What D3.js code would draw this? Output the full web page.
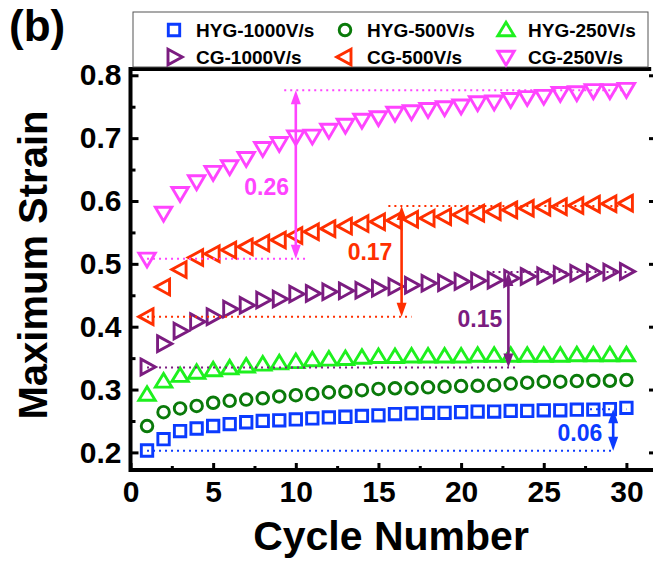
<!DOCTYPE html>
<html><head><meta charset="utf-8">
<script src="https://cdn.jsdelivr.net/npm/d3@7"></script>
<style>
html,body{margin:0;padding:0;background:#fff;}
svg{display:block;font-family:"Liberation Sans",Arial,sans-serif;font-weight:bold;}
</style></head>
<body><svg id="c" width="653" height="562"></svg>
<script>
// ---------------- data ----------------
const cycles = [1,2,3,4,5,6,7,8,9,10,11,12,13,14,15,16,17,18,19,20,21,22,23,24,25,26,27,28,29,30];
const hyg1000 = [0.203,0.221,0.234,0.238,0.242,0.245,0.248,0.250,0.251,0.2525,0.254,0.2557,0.2567,0.258,0.259,0.261,0.262,0.263,0.263,0.264,0.265,0.265,0.266,0.266,0.267,0.267,0.268,0.268,0.269,0.271];
const hyg500  = [0.242,0.264,0.270,0.274,0.279,0.282,0.284,0.286,0.289,0.291,0.293,0.2955,0.2965,0.299,0.301,0.302,0.302,0.3035,0.3045,0.3056,0.306,0.307,0.3095,0.311,0.3125,0.3125,0.3135,0.314,0.314,0.315];
const hyg250  = [0.292,0.313,0.322,0.327,0.331,0.334,0.337,0.340,0.342,0.344,0.347,0.348,0.349,0.351,0.352,0.352,0.353,0.353,0.353,0.353,0.354,0.354,0.354,0.354,0.354,0.354,0.355,0.355,0.355,0.355];
const cg1000  = [0.336,0.373,0.393,0.408,0.416,0.428,0.434,0.4425,0.444,0.452,0.453,0.4556,0.457,0.458,0.461,0.464,0.466,0.469,0.470,0.472,0.473,0.474,0.477,0.480,0.481,0.483,0.485,0.486,0.487,0.488];
const cg500   = [0.416,0.463,0.491,0.510,0.516,0.522,0.527,0.533,0.538,0.545,0.551,0.556,0.560,0.564,0.567,0.569,0.571,0.5726,0.575,0.578,0.5806,0.583,0.5858,0.5885,0.590,0.591,0.5927,0.595,0.5955,0.5965];
const cg250   = [0.508,0.581,0.6125,0.631,0.646,0.655,0.668,0.684,0.692,0.7025,0.7037,0.713,0.721,0.729,0.733,0.740,0.7424,0.746,0.7488,0.7515,0.7567,0.758,0.762,0.765,0.767,0.7716,0.7727,0.776,0.776,0.778];

const seriesNames  = ["HYG-1000V/s","HYG-500V/s","HYG-250V/s","CG-1000V/s","CG-500V/s","CG-250V/s"];
const seriesValues = [hyg1000, hyg500, hyg250, cg1000, cg500, cg250];
const seriesShapes = ["square","circle","up","right","left","down"];
const seriesColors = ["#0b3bff","#0a7a0a","#1ef01e","#7b1c80","#ff2f00","#ff44ff"];

const xTicks = [0,5,10,15,20,25,30];
const xMinor = [2.5,7.5,12.5,17.5,22.5,27.5];
const yTicks = [0.2,0.3,0.4,0.5,0.6,0.7,0.8];
const yMinor = [0.25,0.35,0.45,0.55,0.65,0.75];

// annotations: [topValue, topFrom, topTo, botValue, botFrom, botTo, arrowX, label, labelX, labelY]
const annoPink   = [0.776, 9.3, 30, 0.508, 1, 10.6, 10, "0.26", 8.24, 0.6228];
const annoOrange = [0.592, 15.6, 30, 0.416, 1, 17, 16.4, "0.17", 14.49, 0.519];
const annoPurple = [0.487, 21.9, 30, 0.335, 1, 23.4, 22.86, "0.15", 21.14, 0.4123];
const annoBlue   = [0.2685, 27.8, 30, 0.2025, 1, 29.1, 29.2, "0.06", 27.19, 0.2313];
const annoColors = ["#ff44ff","#ff2f00","#7b1c80","#0b3bff"];

// ---------------- chart ----------------
const svg = d3.select("#c");
const x = d3.scaleLinear().domain([0,31.5]).range([130.5,651.2]);
const y = d3.scaleLinear().domain([0.172,0.81]).range([470,69]);

function shapePath(t){
  switch(t){
    case "square": return "M-5.7,-5.7H5.7V5.7H-5.7Z";
    case "circle": return "M5.8,0A5.8,5.8 0 1 1 -5.8,0A5.8,5.8 0 1 1 5.8,0Z";
    case "up":     return "M0,-7.8L8.2,5.7L-8.2,5.7Z";
    case "right":  return "M-6,-7.8L8.3,0L-6,7.8Z";
    case "left":   return "M6,-7.8L-8.3,0L6,7.8Z";
    case "down":   return "M-8.2,-5.7L8.2,-5.7L0,8.2Z";
  }
}

// markers
seriesValues.forEach((vals,i)=>{
  svg.append("g").selectAll("path").data(vals).join("path")
    .attr("transform",(d,j)=>`translate(${x(cycles[j])},${y(d)})`)
    .attr("d",shapePath(seriesShapes[i]))
    .attr("fill","none").attr("stroke",seriesColors[i]).attr("stroke-width",2.9);
});

// annotations
const annos=[annoPink,annoOrange,annoPurple,annoBlue];
annos.forEach((a,i)=>{
  const c=annoColors[i];
  const g=svg.append("g");
  [[a[0],a[1],a[2]],[a[3],a[4],a[5]]].forEach(l=>{
    g.append("line").attr("x1",x(l[1])).attr("x2",x(l[2])).attr("y1",y(l[0])).attr("y2",y(l[0]))
      .attr("stroke",c).attr("stroke-width",2).attr("stroke-dasharray","2,4");
  });
  const ax=x(a[6]), yt=y(a[0]), yb=y(a[3]);
  const hl=14, hw=5;
  g.append("line").attr("x1",ax).attr("x2",ax).attr("y1",yt+hl-2).attr("y2",yb-hl+2)
    .attr("stroke",c).attr("stroke-width",2.6);
  g.append("path").attr("d",`M${ax},${yt}L${ax+hw},${yt+hl}L${ax-hw},${yt+hl}Z`).attr("fill",c);
  g.append("path").attr("d",`M${ax},${yb}L${ax+hw},${yb-hl}L${ax-hw},${yb-hl}Z`).attr("fill",c);
  g.append("text").attr("x",x(a[8])).attr("y",y(a[9])).attr("dy","0.36em")
    .attr("text-anchor","middle").attr("fill",c).attr("font-size",23).text(a[7]);
});

// axes
const gx=svg.append("g").attr("transform","translate(0,470)")
  .call(d3.axisBottom(x).tickValues(xTicks).tickSize(-7).tickPadding(11).tickFormat(d3.format("d")));
const gxm=svg.append("g").attr("transform","translate(0,470)")
  .call(d3.axisBottom(x).tickValues(xMinor).tickSize(-4).tickFormat(""));
const gy=svg.append("g").attr("transform","translate(130.5,0)")
  .call(d3.axisLeft(y).tickValues(yTicks).tickSize(-8).tickPadding(9).tickFormat(d3.format(".1f")));
const gym=svg.append("g").attr("transform","translate(130.5,0)")
  .call(d3.axisLeft(y).tickValues(yMinor).tickSize(-5).tickFormat(""));
const gyr=svg.append("g").attr("transform","translate(655,0)")
  .call(d3.axisLeft(y).tickValues(yTicks).tickSize(6).tickFormat(""));
[gx,gxm,gy,gym,gyr].forEach(g=>{
  g.select(".domain").remove();
  g.selectAll(".tick line").attr("stroke","#000").attr("stroke-width",3);
  g.selectAll(".tick text").attr("fill","#000").attr("font-size",30)
    .attr("font-family","'Liberation Sans',Arial,sans-serif").attr("font-weight","bold");
});
// spines
svg.append("path").attr("d",`M${x(0)},${y(0.81)}V${y(0.172)}H${x(31.5)}`)
  .attr("fill","none").attr("stroke","#000").attr("stroke-width",4).attr("stroke-linecap","square");
svg.append("line").attr("x1",x(0)).attr("x2",x(31.5)).attr("y1",y(0.81)).attr("y2",y(0.81))
  .attr("stroke","#000").attr("stroke-width",4);

// legend
const leg=svg.append("g");
leg.append("rect").attr("x",133).attr("y",12).attr("width",515).attr("height",55)
  .attr("fill","#fff").attr("stroke","#555").attr("stroke-width",1);
const legCols=[[174,196],[345,367],[506,528]];
const legRows=[30,57];
seriesNames.forEach((n,i)=>{
  const r=Math.floor(i/3), cI=i%3;
  leg.append("path").attr("transform",`translate(${legCols[cI][0]},${legRows[r]})`)
    .attr("d",shapePath(seriesShapes[i])).attr("fill","none")
    .attr("stroke",seriesColors[i]).attr("stroke-width",2.9);
  leg.append("text").attr("x",legCols[cI][1]).attr("y",legRows[r]).attr("dy","0.36em")
    .attr("font-size",19).attr("fill","#000").text(n);
});

// titles
svg.append("text").attr("x",391).attr("y",550).attr("text-anchor","middle")
  .attr("font-size",41).text("Cycle Number");
svg.append("text").attr("transform","translate(47,265) rotate(-90)").attr("text-anchor","middle")
  .attr("font-size",40).text("Maximum Strain");
svg.append("text").attr("x",9).attr("y",41).attr("font-size",44).text("(b)");
</script></body></html>
